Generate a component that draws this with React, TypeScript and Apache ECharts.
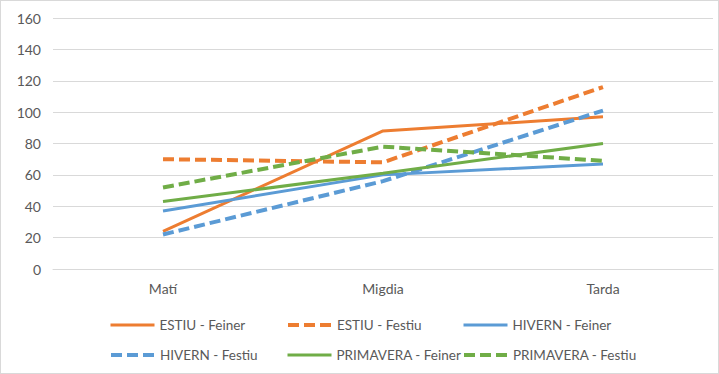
import React, { useEffect, useRef } from "react";
import * as echarts from "echarts";

const categories = ["Matí", "Migdia", "Tarda"];
const estiuFeiner = [24, 88, 97];
const estiuFestiu = [70, 68, 116];
const hivernFeiner = [37, 60, 67];
const hivernFestiu = [22, 56, 101];
const primaveraFeiner = [43, 61, 80];
const primaveraFestiu = [52, 78, 69];

const ORANGE = "#ED7D31";
const BLUE = "#5B9BD5";
const GREEN = "#70AD47";

const seriesDefs = [
  { name: "ESTIU - Feiner", data: estiuFeiner, color: ORANGE, dashed: false },
  { name: "ESTIU - Festiu", data: estiuFestiu, color: ORANGE, dashed: true },
  { name: "HIVERN - Feiner", data: hivernFeiner, color: BLUE, dashed: false },
  { name: "HIVERN - Festiu", data: hivernFestiu, color: BLUE, dashed: true },
  { name: "PRIMAVERA - Feiner", data: primaveraFeiner, color: GREEN, dashed: false },
  { name: "PRIMAVERA - Festiu", data: primaveraFestiu, color: GREEN, dashed: true },
];

const legendPos = [
  { left: 108, top: 317 },
  { left: 285, top: 317 },
  { left: 461, top: 317 },
  { left: 108, top: 347 },
  { left: 285, top: 347 },
  { left: 461, top: 347 },
];

export default function App() {
  const ref = useRef<HTMLDivElement>(null);
  useEffect(() => {
    const chart = echarts.init(ref.current!, null, { renderer: "svg" });
    const font = "Lato, 'Open Sans', sans-serif";
    const lineW = (d: boolean) => (d ? 4 : 3);
    const lineT = (d: boolean) => (d ? [11, 5] : "solid");
    chart.setOption({
      animation: false,
      textStyle: { fontFamily: font },
      grid: { left: 52, right: 5, top: 17, bottom: 104, containLabel: false },
      legend: seriesDefs.map((s, i) => ({
        data: [s.name],
        left: legendPos[i].left,
        top: legendPos[i].top,
        padding: 0,
        itemWidth: 44,
        itemHeight: 14,
        itemGap: 4,
        itemStyle: { opacity: 0 },
        lineStyle: { width: lineW(s.dashed), type: lineT(s.dashed), color: s.color, cap: "butt" },
        textStyle: { color: "#595959", fontSize: 13.5, fontFamily: font },
        selectedMode: false,
      })),
      xAxis: {
        type: "category",
        data: categories,
        boundaryGap: true,
        axisLine: { lineStyle: { color: "#d9d9d9" } },
        axisTick: { show: false },
        axisLabel: { color: "#595959", fontSize: 14, margin: 12, fontFamily: font },
      },
      yAxis: {
        type: "value",
        min: 0,
        max: 160,
        interval: 20,
        axisLine: { show: false },
        axisTick: { show: false },
        axisLabel: { color: "#595959", fontSize: 14, margin: 12, fontFamily: font },
        splitLine: { lineStyle: { color: "#d9d9d9", width: 1 } },
      },
      series: seriesDefs.map((s) => ({
        name: s.name,
        type: "line",
        data: s.data,
        symbol: "none",
        color: s.color,
        lineStyle: {
          color: s.color,
          width: lineW(s.dashed),
          type: lineT(s.dashed),
          cap: "butt",
        },
      })),
    });
    return () => chart.dispose();
  }, []);
  return (
    <div
      style={{
        position: "fixed",
        left: 0,
        top: 0,
        width: 719,
        height: 374,
        boxSizing: "border-box",
        border: "1px solid #d9d9d9",
        background: "#fff",
      }}
    >
      <div ref={ref} style={{ width: 717, height: 372 }} />
    </div>
  );
}
